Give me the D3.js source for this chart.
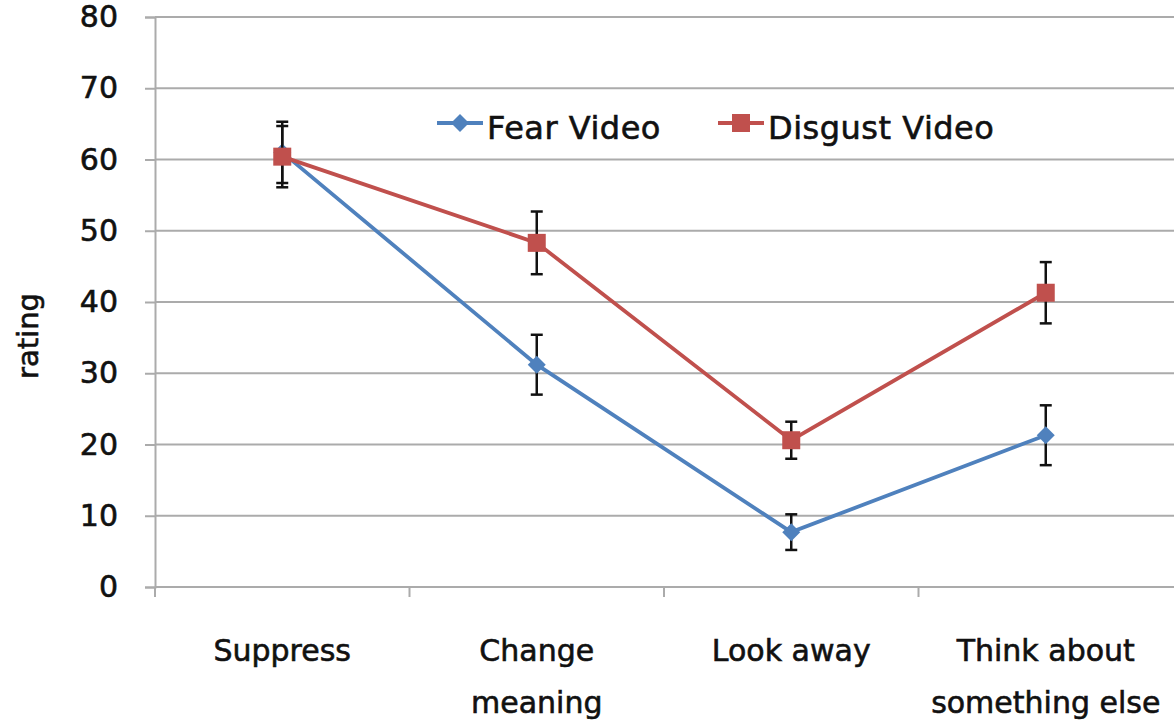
<!DOCTYPE html>
<html>
<head>
<meta charset="utf-8">
<script src="https://cdn.jsdelivr.net/npm/d3@7"></script>
<style>
  html, body { margin: 0; padding: 0; background: #fff; }
  svg { display: block; font-family: "DejaVu Sans", sans-serif; }
  .lbl { fill: #111; stroke: #111; stroke-width: 0.6px; }
</style>
</head>
<body>
<svg id="chart" width="1174" height="725"></svg>
<script>
// Strategy categories and mean ratings (with error-bar half-widths) per video type
const categories = [["Suppress"], ["Change", "meaning"], ["Look away"], ["Think about", "something else"]];
const categoryKeys = ["Suppress", "Change meaning", "Look away", "Think about something else"];
const fearValues = [61.0, 31.2, 7.7, 21.3];
const fearErrors = [4.3, 4.2, 2.5, 4.2];
const disgustValues = [60.4, 48.3, 20.6, 41.3];
const disgustErrors = [4.3, 4.4, 2.6, 4.3];
const yTicks = [0, 10, 20, 30, 40, 50, 60, 70, 80];
const seriesNames = ["Fear Video", "Disgust Video"];

const svg = d3.select("#chart");
const margin = { left: 155, right: 0, top: 17, bottom: 138 };
const W = 1174, H = 725;

const x = d3.scaleBand().domain(categoryKeys).range([margin.left, W - 1]).padding(0);
const y = d3.scaleLinear().domain([0, 80]).range([H - margin.bottom, margin.top]);

const gridColor = "#ababab";

// horizontal gridlines
svg.append("g").selectAll("line").data(yTicks.filter(d => d > 0)).join("line")
  .attr("x1", margin.left).attr("x2", W)
  .attr("y1", d => y(d)).attr("y2", d => y(d))
  .attr("stroke", gridColor).attr("stroke-width", 2);

// y axis
const yAxis = svg.append("g").attr("transform", `translate(${margin.left},0)`)
  .call(d3.axisLeft(y).tickValues(yTicks).tickSize(10).tickPadding(27));
yAxis.select(".domain").attr("stroke", gridColor).attr("stroke-width", 2);
yAxis.selectAll(".tick line").attr("stroke", gridColor).attr("stroke-width", 2);
yAxis.selectAll(".tick text").attr("class", "lbl").attr("font-size", 30)
  .attr("font-family", "DejaVu Sans, sans-serif");

// x axis with tick marks at category boundaries
const xg = svg.append("g").attr("transform", `translate(0,${y(0)})`);
xg.append("line").attr("x1", margin.left).attr("x2", W)
  .attr("stroke", gridColor).attr("stroke-width", 2);
const boundaries = [margin.left].concat(categoryKeys.slice(1).map(k => x(k)));
xg.selectAll("line.b").data(boundaries).join("line").attr("class", "b")
  .attr("x1", d => d).attr("x2", d => d).attr("y1", 0).attr("y2", 10)
  .attr("stroke", gridColor).attr("stroke-width", 2);

// category labels
categories.forEach((lines, i) => {
  const cx = x(categoryKeys[i]) + x.bandwidth() / 2;
  const t = svg.append("text").attr("class", "lbl").attr("x", cx).attr("y", y(0) + 74)
    .attr("text-anchor", "middle").attr("font-size", 30);
  lines.forEach((ln, j) => {
    t.append("tspan").attr("x", cx).attr("dy", j === 0 ? 0 : 52).text(ln);
  });
});

// y axis title
svg.append("text").attr("class", "lbl").attr("transform", `translate(38,336) rotate(-90)`)
  .attr("text-anchor", "middle").attr("font-size", 29)
  .text("rating");

const series = [
  { name: seriesNames[0], values: fearValues, errors: fearErrors, color: "#4f81bd", marker: "diamond" },
  { name: seriesNames[1], values: disgustValues, errors: disgustErrors, color: "#c0504d", marker: "square" }
];

const cxOf = i => x(categoryKeys[i]) + x.bandwidth() / 2;
const line = d3.line().x((d, i) => cxOf(i)).y(d => y(d));

function drawMarker(g, type, color, cx, cy) {
  if (type === "square") {
    g.append("rect").attr("x", cx - 9).attr("y", cy - 9).attr("width", 18).attr("height", 18).attr("fill", color);
  } else {
    const s = 9;
    g.append("path").attr("d", `M${cx},${cy - s}L${cx + s},${cy}L${cx},${cy + s}L${cx - s},${cy}Z`).attr("fill", color);
  }
}

series.forEach(s => {
  const g = svg.append("g");
  // error bars
  s.values.forEach((v, i) => {
    const cx = cxOf(i), e = s.errors[i];
    g.append("line").attr("x1", cx).attr("x2", cx).attr("y1", y(v + e)).attr("y2", y(v - e))
      .attr("stroke", "#111").attr("stroke-width", 2.5);
    [v + e, v - e].forEach(b => g.append("line").attr("x1", cx - 6).attr("x2", cx + 6)
      .attr("y1", y(b)).attr("y2", y(b)).attr("stroke", "#111").attr("stroke-width", 2.5));
  });
  g.append("path").datum(s.values).attr("d", line).attr("fill", "none")
    .attr("stroke", s.color).attr("stroke-width", 3.8);
  s.values.forEach((v, i) => drawMarker(g, s.marker, s.color, cxOf(i), y(v)));
});

// legend
const legendItems = [
  { x0: 437, s: series[0] },
  { x0: 718, s: series[1] }
];
legendItems.forEach(({ x0, s }) => {
  const g = svg.append("g");
  const ly = 123;
  g.append("line").attr("x1", x0).attr("x2", x0 + 46).attr("y1", ly).attr("y2", ly)
    .attr("stroke", s.color).attr("stroke-width", 3.8);
  drawMarker(g, s.marker, s.color, x0 + 23, ly);
  g.append("text").attr("class", "lbl").attr("x", x0 + 50).attr("y", 139)
    .attr("font-size", 32).attr("letter-spacing", 0.5).text(s.name);
});
</script>
</body>
</html>
